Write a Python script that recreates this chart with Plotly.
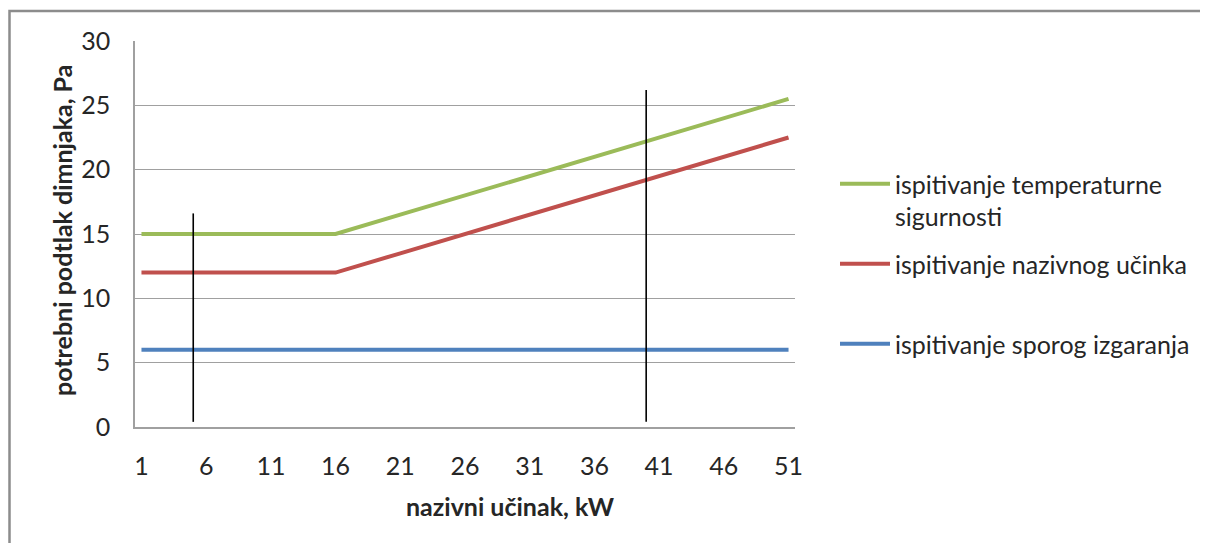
import plotly.graph_objects as go

# nazivni učinak, kW
snaga = [1, 6, 11, 16, 21, 26, 31, 36, 41, 46, 51]
# potrebni podtlak dimnjaka, Pa
temp_sigurnost = [15, 15, 15, 15, 16.5, 18, 19.5, 21, 22.5, 24, 25.5]
nazivni_ucinak = [12, 12, 12, 12, 13.5, 15, 16.5, 18, 19.5, 21, 22.5]
sporo_izgaranje = [6, 6, 6, 6, 6, 6, 6, 6, 6, 6, 6]

# black vertical marker lines drawn over the chart
marker_x = [5, 40]
marker_bottom = [0.4, 0.4]
marker_top = [16.6, 26.2]

x_ticks = [1, 6, 11, 16, 21, 26, 31, 36, 41, 46, 51]
y_ticks = [0, 5, 10, 15, 20, 25, 30]

FONT = 'Lato, "Open Sans", sans-serif'
TXT = '#262626'
# the page body has an 8px margin, so the figure starts at (8, 8)
OFF = 8
W, H = 1200, 535
L, R, T, B = 135 - OFF, 413, 41 - OFF, 116
pw, ph = W - L - R, H - T - B


def px_x(px):
    return (px - OFF - L) / pw


def px_y(py):
    return (H - B - (py - OFF)) / ph


fig = go.Figure()

series = [
    ('ispitivanje temperaturne<br>sigurnosti', temp_sigurnost, '#9BBB59'),
    ('ispitivanje nazivnog učinka<br> ', nazivni_ucinak, '#C0504D'),
    ('ispitivanje sporog izgaranja<br> ', sporo_izgaranje, '#4F81BD'),
]
for i, (name, vals, color) in enumerate(series):
    fig.add_trace(go.Scatter(
        x=snaga, y=vals, mode='lines', name=name,
        line=dict(color=color, width=4),
        legendgroup=f'g{i}',
    ))

mx, my = [], []
for x, y0, y1 in zip(marker_x, marker_bottom, marker_top):
    mx.extend([x, x, None])
    my.extend([y0, y1, None])
fig.add_trace(go.Scatter(
    x=mx, y=my, mode='lines', line=dict(color='black', width=1.6),
    showlegend=False, hoverinfo='skip',
))

# outer chart frame (left and top edges visible)
fig.add_shape(
    type='rect', xref='paper', yref='paper', layer='below',
    x0=px_x(9.5), x1=px_x(W + 40), y0=px_y(H + 40), y1=px_y(11),
    line=dict(color='#8c8c8c', width=2.5), fillcolor='rgba(0,0,0,0)',
)

# axis titles
fig.add_annotation(
    text='<b>nazivni učinak, kW</b>', xref='paper', yref='paper',
    x=px_x(510), y=px_y(506), xanchor='center', yanchor='middle',
    showarrow=False, font=dict(family=FONT, size=25, color=TXT),
)
fig.add_annotation(
    text='<b>potrebni podtlak dimnjaka, Pa</b>', xref='paper', yref='paper',
    x=px_x(62), y=px_y(231), xanchor='center', yanchor='middle',
    showarrow=False, textangle=-90,
    font=dict(family=FONT, size=25, color=TXT),
)

fig.update_layout(
    width=W, height=H,
    margin=dict(l=L, r=R, t=T, b=B),
    paper_bgcolor='white', plot_bgcolor='white',
    font=dict(family=FONT, size=25, color=TXT),
    showlegend=True,
    legend=dict(
        x=px_x(835), xanchor='left', y=px_y(161), yanchor='top',
        valign='top', tracegroupgap=12, itemwidth=50,
        font=dict(family=FONT, size=25, color=TXT),
    ),
    xaxis=dict(
        range=[0.5, 51.5], tickvals=x_ticks, ticktext=[str(v) for v in x_ticks],
        showgrid=False, zeroline=False, showline=True, linecolor='#a0a0a0',
        linewidth=1.5, ticks='', automargin=False, ticklabelstandoff=16,
    ),
    yaxis=dict(
        range=[0, 30], tickvals=y_ticks, showgrid=True, gridcolor='#a0a0a0',
        gridwidth=1, zeroline=False, showline=True, linecolor='#a0a0a0',
        linewidth=1.5, ticks='', automargin=False, ticklabelstandoff=18,
    ),
)

fig.write_html("out.html")
